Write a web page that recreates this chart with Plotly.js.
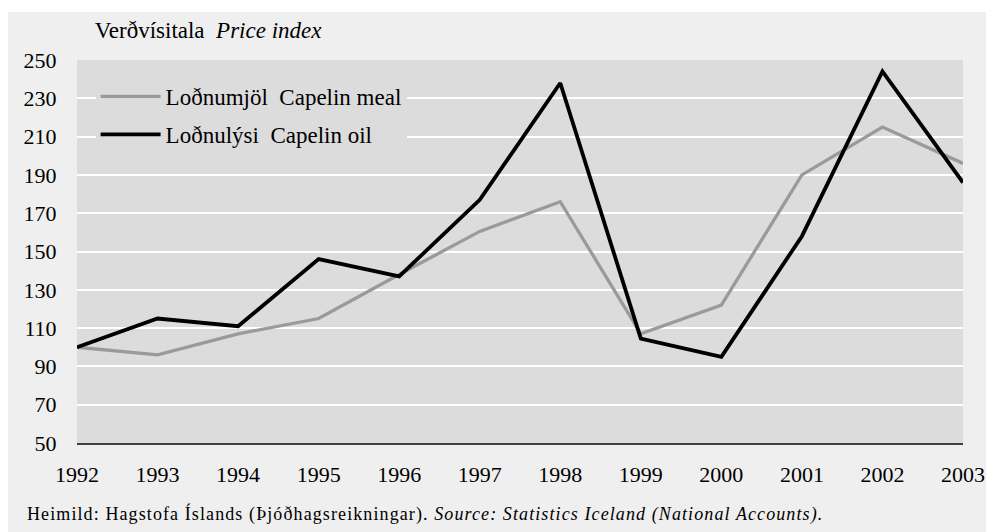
<!DOCTYPE html>
<html>
<head>
<meta charset="utf-8">
<script src="https://cdn.plot.ly/plotly-3.0.1.min.js"></script>
<style>html,body{margin:0;padding:0;background:#fff;}#chart{width:986px;height:532px;}
.annotation-text{letter-spacing:1.1px;}</style>
</head>
<body>
<div id="chart"></div>
<script>
const years = [1992,1993,1994,1995,1996,1997,1998,1999,2000,2001,2002,2003];
const capelinMeal = [100,96,107,115,138,160.5,176,107,122,190,215,196];
const capelinOil = [100,115,111,146,137,177,238,104.5,95,158,244,186];
const mealName = 'Loðnumjöl  Capelin meal';
const oilName = 'Loðnulýsi  Capelin oil';
const yTicks = [50,70,90,110,130,150,170,190,210,230,250];

const font = {family: 'Liberation Serif, Times New Roman, serif', color: '#000'};

const traces = [
  {x: years, y: capelinMeal, type: 'scatter', mode: 'lines', name: mealName, legendgroup: 'a',
   line: {color: '#9a9a9a', width: 3.3}},
  {x: years, y: capelinOil, type: 'scatter', mode: 'lines', name: oilName, legendgroup: 'b',
   line: {color: '#000000', width: 3.8}}
];

const layout = {
  width: 986, height: 532,
  margin: {l: 77, r: 23, t: 60, b: 89, pad: 0},
  paper_bgcolor: '#efefef',
  plot_bgcolor: '#dcdcdc',
  font: Object.assign({size: 22}, font),
  title: {text: 'Verðvísitala  <i>Price index</i>', font: Object.assign({size: 23}, font),
          xref: 'paper', x: 0.02, xanchor: 'left', yref: 'container', y: 1 - 30/532, yanchor: 'middle'},
  xaxis: {range: [1992, 2003], tickvals: years, ticktext: years.map(String),
          showgrid: false, zeroline: false, showline: true, linecolor: '#404040', linewidth: 1.5,
          ticks: 'outside', ticklen: 11, tickcolor: 'rgba(0,0,0,0)', tickfont: Object.assign({size: 22}, font), fixedrange: true},
  yaxis: {range: [50, 250], tickvals: yTicks, ticktext: yTicks.map(String),
          showgrid: true, gridcolor: '#ffffff', gridwidth: 2, zeroline: false, showline: false,
          ticks: 'outside', ticklen: 15, tickcolor: 'rgba(0,0,0,0)', tickfont: Object.assign({size: 22}, font), fixedrange: true},
  showlegend: true,
  legend: {x: 0.021, xanchor: 'left', y: 0.961, yanchor: 'top', bgcolor: '#dcdcdc', borderwidth: 0,
           font: Object.assign({size: 23}, font), itemwidth: 60, tracegroupgap: 5, traceorder: 'grouped'},
  shapes: [
    {type: 'rect', xref: 'paper', yref: 'paper', x0: -0.2, x1: 1.2, y0: (443-12)/383, y1: 1.3,
     fillcolor: '#ffffff', line: {width: 0}, layer: 'above'},
    {type: 'rect', xref: 'paper', yref: 'paper', x0: -0.2, x1: (8-77)/886, y0: -0.4, y1: 1.3,
     fillcolor: '#ffffff', line: {width: 0}, layer: 'above'}
  ],
  annotations: [
    {text: 'Heimild: Hagstofa Íslands (Þjóðhagsreikningar). <i>Source: Statistics Iceland (National Accounts).</i>',
     xref: 'paper', yref: 'paper', x: (25-77)/886, y: (443-514)/383, xanchor: 'left', yanchor: 'middle',
     showarrow: false, font: Object.assign({size: 18}, font)}
  ]
};

Plotly.newPlot('chart', traces, layout, {displayModeBar: false, staticPlot: true});
</script>
</body>
</html>
